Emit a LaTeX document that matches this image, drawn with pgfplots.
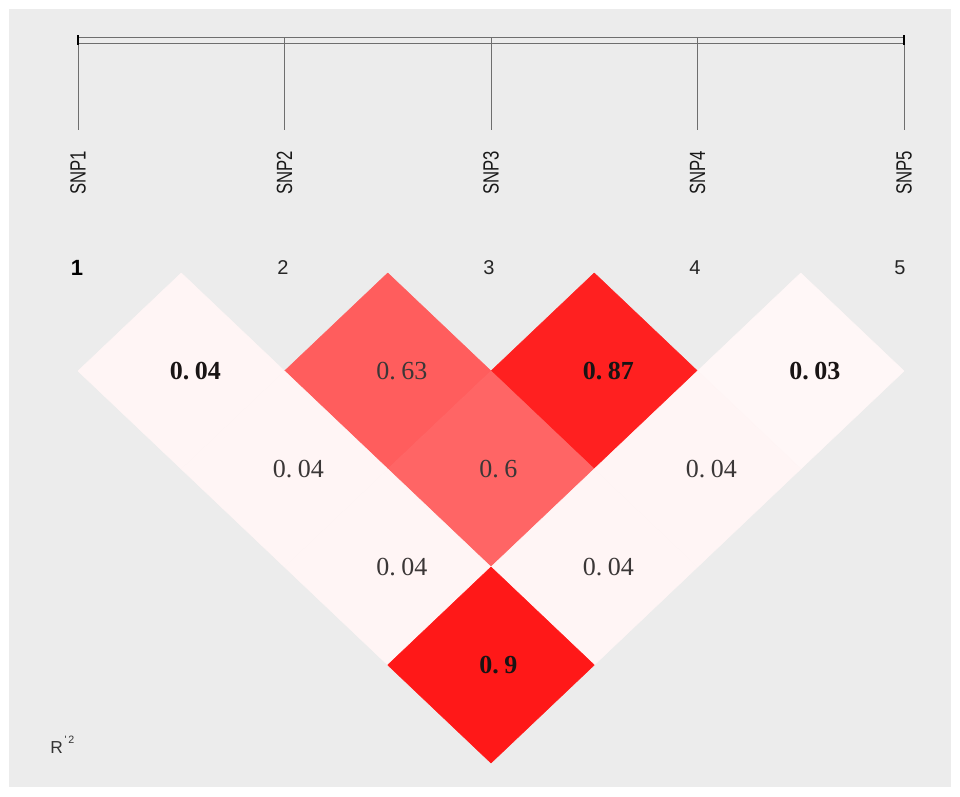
\documentclass[border=0pt]{standalone}
\usepackage{pgfplots}
\pgfplotsset{compat=1.18}
\usepackage{pgfplotstable}
\usepackage{fontspec}
\setmainfont{Liberation Serif}
\newfontfamily\snpfont{Liberation Sans}
\definecolor{bgray}{RGB}{236,236,236}
\definecolor{lgray}{RGB}{110,110,110}
\definecolor{txt}{RGB}{25,20,20}

% LD diamonds: four corners (left, top, right, bottom) of each pair, r^2 as meta
\pgfplotstableread{
x y r
78 371 0.04
181.25 273 0.04
284.5 371 0.04
181.25 469 0.04
284.5 371 0.63
387.75 273 0.63
491 371 0.63
387.75 469 0.63
491 371 0.87
594.25 273 0.87
697.5 371 0.87
594.25 469 0.87
697.5 371 0.03
800.75 273 0.03
904 371 0.03
800.75 469 0.03
181.25 469 0.04
284.5 371 0.04
387.75 469 0.04
284.5 567 0.04
387.75 469 0.6
491 371 0.6
594.25 469 0.6
491 567 0.6
594.25 469 0.04
697.5 371 0.04
800.75 469 0.04
697.5 567 0.04
284.5 567 0.04
387.75 469 0.04
491 567 0.04
387.75 665 0.04
491 567 0.04
594.25 469 0.04
697.5 567 0.04
594.25 665 0.04
387.75 665 0.9
491 567 0.9
594.25 665 0.9
491 763 0.9
}\ldtable

\newcommand{\val}[2]{#1.\kern0.22em#2}

\begin{document}
\begin{tikzpicture}
\begin{axis}[
  scale only axis, width=720pt, height=597pt,
  xmin=0, xmax=960, ymin=0, ymax=796, y dir=reverse,
  hide axis, clip=false,
  colormap={wr}{rgb255=(255,255,255) rgb255=(255,0,0)},
  point meta min=0, point meta max=1,
]
% background
\addplot[fill=white, draw=none] coordinates {(0,0) (960,0) (960,796) (0,796)} -- cycle;
\addplot[fill=bgray, draw=none] coordinates {(9,9) (951,9) (951,787) (9,787)} -- cycle;

% top bar
\addplot[lgray, line width=0.6pt] coordinates {(78,37) (904,37)};
\addplot[lgray, line width=0.6pt] coordinates {(78,43) (904,43)};
\addplot[lgray, line width=0.6pt] coordinates {(78,37) (78,130)};
\addplot[lgray, line width=0.6pt] coordinates {(284.5,37) (284.5,130)};
\addplot[lgray, line width=0.6pt] coordinates {(491,37) (491,130)};
\addplot[lgray, line width=0.6pt] coordinates {(697.5,37) (697.5,130)};
\addplot[lgray, line width=0.6pt] coordinates {(904,37) (904,130)};
\addplot[black, line width=1.2pt] coordinates {(78,35) (78,45)};
\addplot[black, line width=1.2pt] coordinates {(904,35) (904,45)};

% diamonds
\addplot[patch, patch type=rectangle, shader=flat, point meta=explicit]
  table[x=x, y=y, meta=r] {\ldtable};

% SNP labels
\foreach \xx/\nm in {78/SNP1, 284.5/SNP2, 491/SNP3, 697.5/SNP4, 904/SNP5}{
  \edef\tmp{\noexpand\node[rotate=90, xscale=0.76, anchor=east, inner sep=0pt, font=\noexpand\snpfont\noexpand\fontsize{16.5pt}{18pt}\noexpand\selectfont, text=black!90] at (axis cs:\xx,151) {\nm};}
  \tmp
}
% numbers
\node[font=\snpfont\bfseries\fontsize{16.5pt}{18pt}\selectfont, text=black] at (axis cs:77,268) {1};
\node[font=\snpfont\fontsize{15pt}{18pt}\selectfont, text=black!85] at (axis cs:283,268) {2};
\node[font=\snpfont\fontsize{15pt}{18pt}\selectfont, text=black!85] at (axis cs:489,268) {3};
\node[font=\snpfont\fontsize{15pt}{18pt}\selectfont, text=black!85] at (axis cs:695,268) {4};
\node[font=\snpfont\fontsize{15pt}{18pt}\selectfont, text=black!85] at (axis cs:900,268) {5};

% values
\tikzset{vb/.style={anchor=west, inner sep=0pt, text=txt, font=\bfseries\fontsize{19.5pt}{22pt}\selectfont},
         vn/.style={anchor=west, inner sep=0pt, text=txt!85, font=\fontsize{19.5pt}{22pt}\selectfont}}
\node[vb] at (axis cs:169.5,371) {\val{0}{04}};
\node[vn] at (axis cs:376,371) {\val{0}{63}};
\node[vb] at (axis cs:582.5,371) {\val{0}{87}};
\node[vb] at (axis cs:789,371) {\val{0}{03}};
\node[vn] at (axis cs:272.5,469) {\val{0}{04}};
\node[vn] at (axis cs:479,469) {\val{0}{6}};
\node[vn] at (axis cs:685.5,469) {\val{0}{04}};
\node[vn] at (axis cs:376,567) {\val{0}{04}};
\node[vn] at (axis cs:582.5,567) {\val{0}{04}};
\node[vb] at (axis cs:479,665) {\val{0}{9}};

% legend label
\node[anchor=west, inner sep=0pt, font=\snpfont\fontsize{13pt}{15pt}\selectfont, text=black!80] at (axis cs:50,745) {R\raisebox{0.55em}{\fontsize{8pt}{9pt}\selectfont\,'\,2}};
\end{axis}
\end{tikzpicture}
\end{document}
